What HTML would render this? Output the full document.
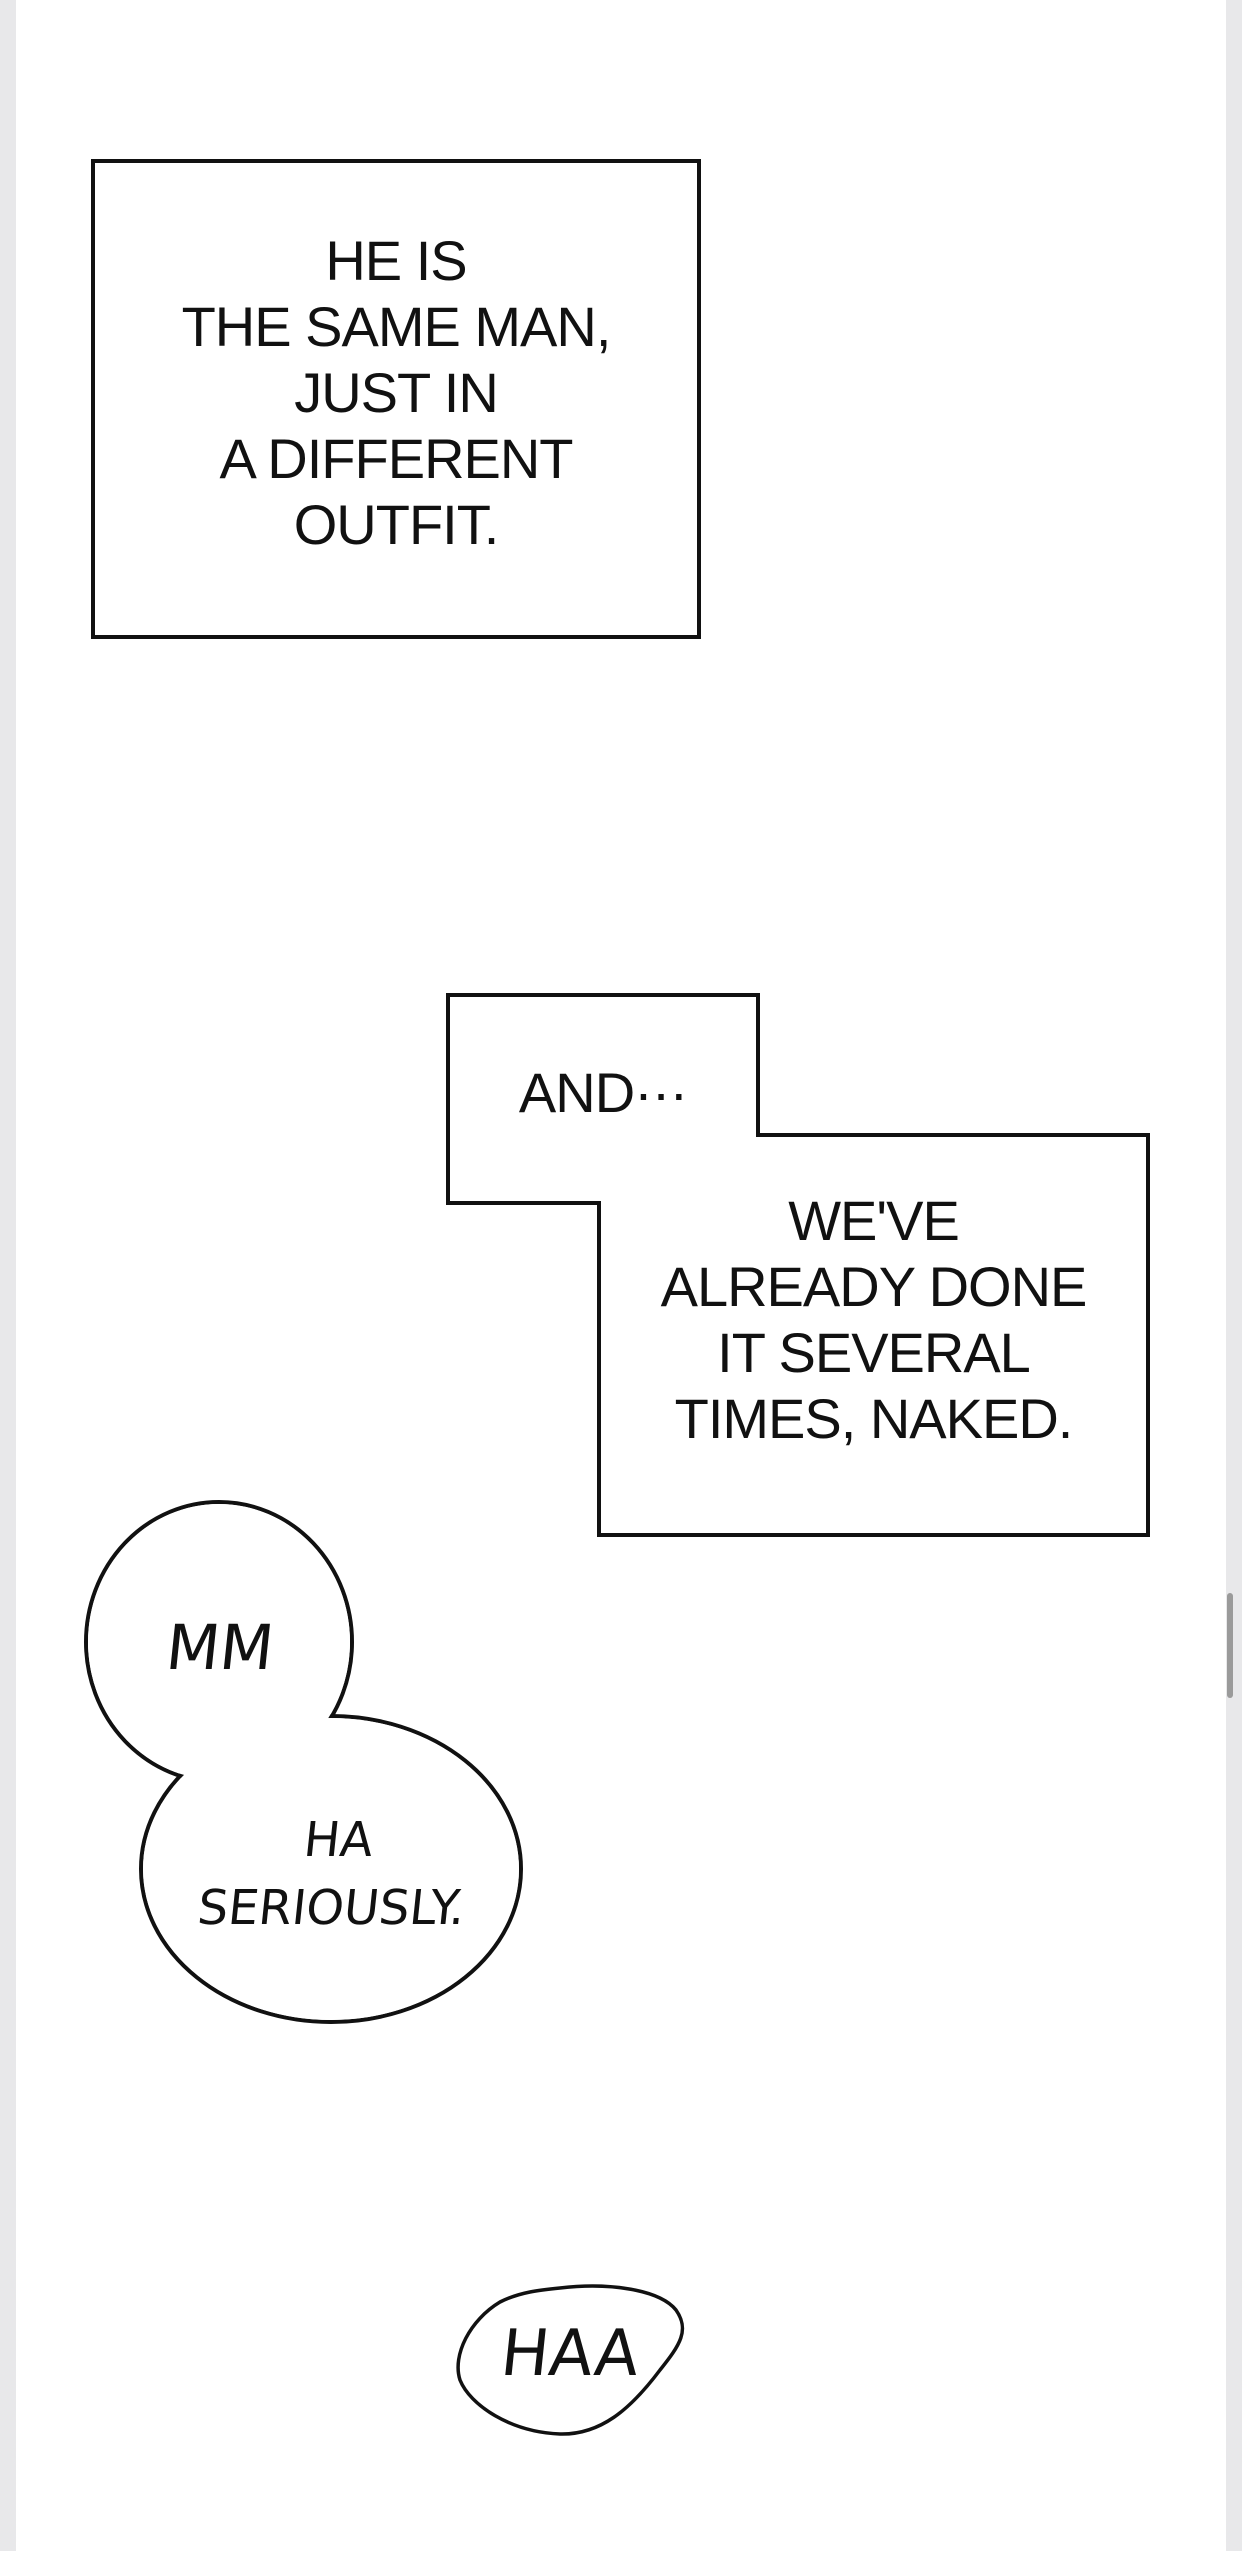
<!DOCTYPE html>
<html><head><meta charset="utf-8"><style>
html,body{margin:0;padding:0;background:#fff;}
body{width:1242px;height:2551px;position:relative;overflow:hidden;font-family:"Liberation Sans",sans-serif;}
.strip{position:absolute;top:0;width:16px;height:2551px;background:#e8e8ea;}
.t{position:absolute;text-align:center;color:#111;font-family:"Liberation Sans",sans-serif;font-size:56px;line-height:66px;letter-spacing:-1px;}
.h{position:absolute;text-align:center;color:#111;font-family:"DejaVu Sans","Liberation Sans",sans-serif;font-weight:500;transform:skewX(-6deg);}
</style></head><body>
<div class="strip" style="left:0"></div>
<div class="strip" style="right:0"></div>
<div style="position:absolute;left:1227px;top:1593px;width:6px;height:105px;background:#9a9a9a;border-radius:3px"></div>
<svg width="1242" height="2551" style="position:absolute;left:0;top:0">
<rect x="93" y="161" width="606" height="476" fill="none" stroke="#111" stroke-width="4"/>
<path d="M448 995 L758 995 L758 1135 L1148 1135 L1148 1535 L599 1535 L599 1203 L448 1203 Z" fill="none" stroke="#111" stroke-width="4"/>
<ellipse cx="219" cy="1642" rx="133" ry="140" fill="none" stroke="#111" stroke-width="4"/>
<ellipse cx="331" cy="1869" rx="190" ry="153" fill="none" stroke="#111" stroke-width="4"/>
<ellipse cx="219" cy="1642" rx="131" ry="138" fill="#fff"/>
<ellipse cx="331" cy="1869" rx="188" ry="151" fill="#fff"/>
<path d="M560 2288 C610 2282 660 2290 676 2310 C690 2330 680 2345 660 2370 C630 2410 600 2435 560 2434 C510 2432 470 2405 460 2380 C452 2355 470 2320 500 2302 C520 2292 540 2290 560 2288 Z" fill="#fff" stroke="#111" stroke-width="3.5"/>
</svg>
<div class="t" style="left:93px;width:606px;top:228px">HE IS<br>THE SAME MAN,<br>JUST IN<br>A DIFFERENT<br>OUTFIT.</div>
<div class="t" style="left:448px;width:310px;top:1060px">AND···</div>
<div class="t" style="left:599px;width:549px;top:1188px">WE'VE<br>ALREADY DONE<br>IT SEVERAL<br>TIMES, NAKED.</div>
<div class="h" style="left:120px;width:200px;top:1616px;font-size:62px;line-height:64px">MM</div>
<div class="h" style="left:150px;width:370px;top:1806px;font-size:48px;line-height:68px">HA<br>SERIOUSLY.</div>
<div class="h" style="left:460px;width:220px;top:2322px;font-size:64px;line-height:64px">HAA</div>
</body></html>
